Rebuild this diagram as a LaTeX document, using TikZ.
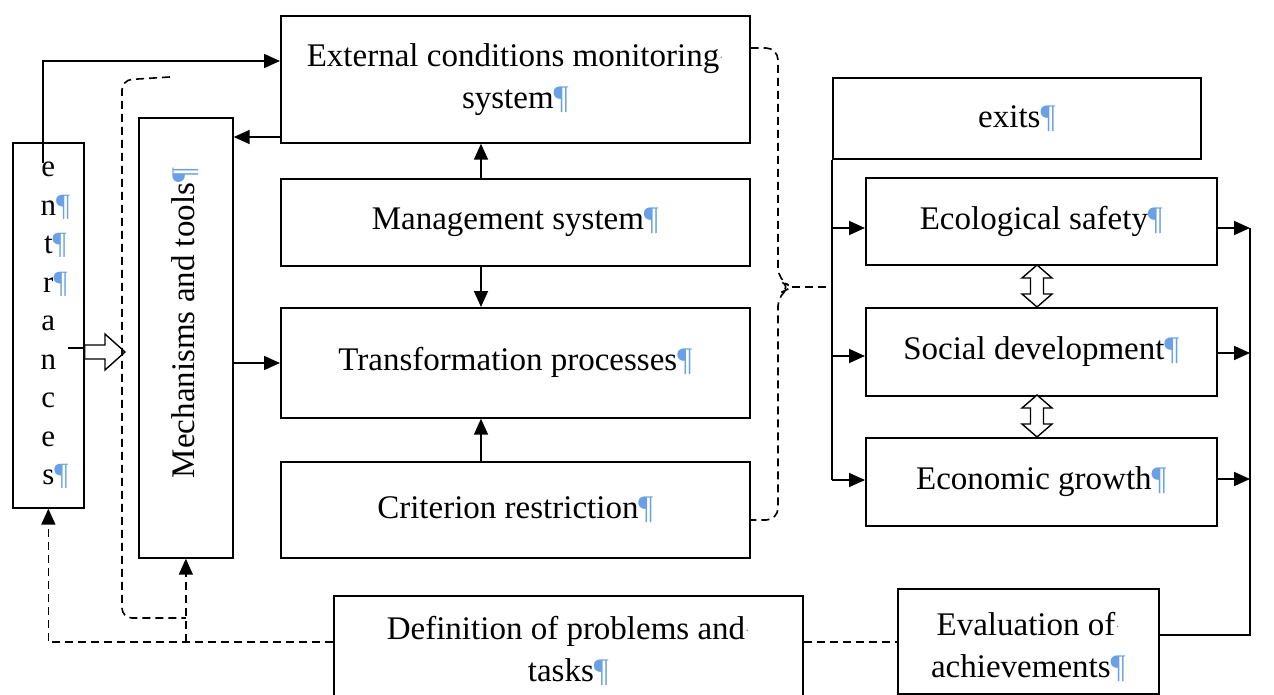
\documentclass[tikz,border=0pt]{standalone}
\usepackage{fontspec}
\setmainfont{Liberation Serif}
\usetikzlibrary{arrows.meta}
\definecolor{pilc}{RGB}{105,160,230}
\newcommand\pil{\textcolor{pilc}{¶}}
\newcommand\wdot{\textcolor{pilc!60!gray}{\raisebox{0.25ex}{\fontsize{14}{14}\selectfont·}}}
\begin{document}
\begin{tikzpicture}[x=1pt,y=-1pt, line width=1.7pt,
  >={Triangle[length=16pt,width=14pt]},
  box/.style={draw, inner sep=0pt, align=center, anchor=north west, font=\fontsize{33}{42}\selectfont},
  dsh/.style={dash pattern=on 8pt off 5pt, line width=1.6pt},
  hollow/.style={draw, fill=white, line width=1.4pt, line join=miter}]
\useasboundingbox (0,0) rectangle (1274,695);

% boxes
\node[box, minimum width=71pt, minimum height=365pt, font=\fontsize{31}{38.5}\selectfont] (ent) at (12,142)
  {e\\n\rlap{\pil}\\t\rlap{\pil}\\r\rlap{\pil}\\a\\n\\c\\e\\s\rlap{\pil}};
\node[box, minimum width=94pt, minimum height=440pt] (mech) at (138,117) {};
\node[rotate=90, font=\fontsize{33}{42}\selectfont, inner sep=0pt] (mechtxt) at (185,323) {Mechanisms and tools\pil};
\node[box, minimum width=469pt, minimum height=127pt] (ext) at (280,15) {External conditions monitoring\wdot\\system\pil};
\node[box, minimum width=469pt, minimum height=87pt] (mgmt) at (280,178) {Management system\pil};
\node[box, minimum width=469pt, minimum height=110pt] (trans) at (280,307) {Transformation processes\pil};
\node[box, minimum width=469pt, minimum height=96pt] (crit) at (280,461) {Criterion restriction\pil};
\node[box, minimum width=368pt, minimum height=81pt] (exits) at (832,77) {exits\pil};
\node[box, minimum width=351pt, minimum height=87pt] (eco) at (865,177) {Ecological safety\pil};
\node[box, minimum width=351pt, minimum height=88pt] (soc) at (865,307) {Social development\pil};
\node[box, minimum width=351pt, minimum height=88pt] (econ) at (865,437) {Economic growth\pil};
\node[box, minimum width=469pt, minimum height=110pt] (def) at (333,595) {Definition of problems and\wdot\\tasks\pil};
\node[box, minimum width=261pt, minimum height=105pt] (eval) at (897,588) {\rule{0pt}{34pt}Evaluation of\wdot\\achievements\pil};

% helper coordinates
\coordinate (cx) at (481,0);
\coordinate (rx) at (1250,0);
\coordinate (lx) at (832,0);
\coordinate (entstart) at (43,163);
\coordinate (dstart) at (170,77);
\coordinate (dashy) at (0,642);
\coordinate (tip) at (792,287);

% solid connectors
\draw[->] (entstart) |- (ext.west |- 0,61);
\draw[->] (ext.west |- 0,137) -- (mech.east |- 0,137);
\draw[->] (cx |- mgmt.north) -- (cx |- ext.south);
\draw[->] (cx |- mgmt.south) -- (cx |- trans.north);
\draw[->] (cx |- crit.north) -- (cx |- trans.south);
\draw[->] (mech.east |- 0,363) -- (trans.west |- 0,363);

% exits fan
\draw (exits.south west) -- (lx |- 0,480);
\draw[->] (lx |- 0,228) -- (eco.west |- 0,228);
\draw[->] (lx |- 0,356) -- (soc.west |- 0,356);
\draw[->] (lx |- 0,480) -- (econ.west |- 0,480);

% right collector
\draw[->] (eco.east |- 0,228) -- (rx |- 0,228);
\draw[->] (soc.east |- 0,353) -- (rx |- 0,353);
\draw[->] (econ.east |- 0,479) -- (rx |- 0,479);
\draw (eval.east |- 0,635) -| (rx |- 0,228);

% hollow arrow entrances -> mechanisms
\draw[line width=1.3pt] (68,348) -- (ent.east |- 0,348);
\draw[hollow] (ent.east |- 0,345) -- (105,345) -- (105,334) -- (125,352) -- (105,370) -- (105,359) -- (ent.east |- 0,359) -- cycle;

% hollow double arrows between result boxes
\draw[hollow] (1037,265) -- (1052,278) -- (1043.5,278) -- (1043.5,294) -- (1052,294) -- (1037,307)
  -- (1022,294) -- (1030.5,294) -- (1030.5,278) -- (1022,278) -- cycle;
\draw[hollow] (1037,395) -- (1052,408) -- (1043.5,408) -- (1043.5,424) -- (1052,424) -- (1037,437)
  -- (1022,424) -- (1030.5,424) -- (1030.5,408) -- (1022,408) -- cycle;

% dashed connectors
\draw[dsh, ->] (def.west |- dashy) -| (ent.south);
\draw[dsh, ->] (mech.south |- dashy) -- (mech.south);
\draw[dsh, rounded corners=10pt] (dstart) -- (122,80) -- (122,618) -- (mech.south |- 0,618);
\draw[dsh] (def.east |- dashy) -- (eval.west |- dashy);
\draw[dsh, rounded corners=12pt] (ext.east |- 0,48) -- (778,48) -- (778,280) -- (tip) -- (778,294) -- (778,520) -- (crit.east |- 0,520);
\draw[dsh] (tip) -- (lx |- tip);
\end{tikzpicture}
\end{document}
